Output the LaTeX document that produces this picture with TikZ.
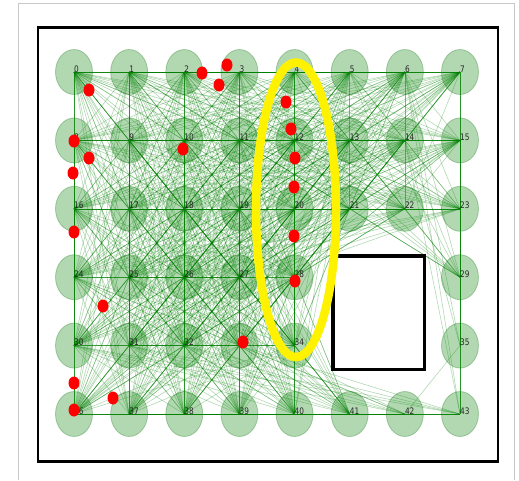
\documentclass[tikz,border=0pt]{standalone}
\usepackage{fontspec}
\newfontfamily\labelfont{DejaVu Sans}
\usetikzlibrary{shapes.geometric, backgrounds}

\definecolor{nodegreen}{RGB}{0,128,0}
\definecolor{framegray}{RGB}{200,200,200}

\begin{document}
\begin{tikzpicture}[
        x=1pt, y=-1pt,
        grid_node/.style={ellipse, minimum width=37pt, minimum height=45pt, inner sep=0pt, fill=nodegreen, fill opacity=0.3, draw=nodegreen!70!gray, draw opacity=0.35, line width=0.8pt},
        label_node/.style={anchor=base west, inner sep=0pt, xscale=0.82, font=\labelfont\fontsize{9}{9}\selectfont, text=black!85},
        sample_dot/.style={ellipse, minimum width=11pt, minimum height=13pt, inner sep=0pt, fill=red},
        edge_line/.style={draw=nodegreen, draw opacity=0.3, line width=0.6pt},
        focus_ring/.style={ellipse, draw=yellow, line width=8.5pt, minimum width=80pt, minimum height=294.6pt, inner sep=0pt},
        obstacle_box/.style={rectangle, draw=black, fill=white, line width=3.5pt, minimum width=91.5pt, minimum height=113.5pt, inner sep=0pt},
        frame_line/.style={draw=black, line width=2.8pt}
    ]
        \useasboundingbox (0,0) rectangle (519,480);

        % Nodes
        \foreach \i/\c/\r in {0/0/0,1/1/0,2/2/0,3/3/0,4/4/0,5/5/0,6/6/0,7/7/0,
                8/0/1,9/1/1,10/2/1,11/3/1,12/4/1,13/5/1,14/6/1,15/7/1,
                16/0/2,17/1/2,18/2/2,19/3/2,20/4/2,21/5/2,22/6/2,23/7/2,
                24/0/3,25/1/3,26/2/3,27/3/3,28/4/3,29/7/3,
                30/0/4,31/1/4,32/2/4,33/3/4,34/4/4,35/7/4,
                36/0/5,37/1/5,38/2/5,39/3/5,40/4/5,41/5/5,42/6/5,43/7/5}{
            \node (n\i) [grid_node] at ({74+55.14*\c},{72+68.4*\r}) {};
            \expandafter\xdef\csname gridcol\i\endcsname{\c}
            \expandafter\xdef\csname gridrow\i\endcsname{\r}
        }

        % Edges (pairs with a clear line of sight past the box)
        \begin{scope}[on background layer]
            \fill[white] (0,0) rectangle (519,480);
            \foreach \i in {0,...,42}{
                \pgfmathtruncatemacro\nexti{\i+1}
                \foreach \j in {\nexti,...,43}{
                    \edef\ci{\csname gridcol\i\endcsname}\edef\ri{\csname gridrow\i\endcsname}
                    \edef\cj{\csname gridcol\j\endcsname}\edef\rj{\csname gridrow\j\endcsname}
                    \pgfmathsetmacro\fa{(\cj-\ci)*(2.69-\ri)-(\rj-\ri)*(4.70-\ci)}
                    \pgfmathsetmacro\fb{(\cj-\ci)*(2.69-\ri)-(\rj-\ri)*(6.36-\ci)}
                    \pgfmathsetmacro\fc{(\cj-\ci)*(4.35-\ri)-(\rj-\ri)*(4.70-\ci)}
                    \pgfmathsetmacro\fd{(\cj-\ci)*(4.35-\ri)-(\rj-\ri)*(6.36-\ci)}
                    \pgfmathtruncatemacro\clear{(max(\ci,\cj)<4.70) || (min(\ci,\cj)>6.36) || (max(\ri,\rj)<2.69) || (min(\ri,\rj)>4.35) || ((\fa>0) && (\fb>0) && (\fc>0) && (\fd>0)) || ((\fa<0) && (\fb<0) && (\fc<0) && (\fd<0))}
                    \ifnum\clear=1
                        \draw [edge_line] (n\i.center) -- (n\j.center);
                    \fi
                }
            }
        \end{scope}

        % Labels
        \foreach \i in {0,...,43}{
            \node (lab\i) [label_node] at (n\i.center) {\i};
        }

        % Samples
        \foreach \x/\y [count=\k] in {89/90,202/73,219/85,227/65,74/141,89/158,73/173,183/149,286/102,291/129,
                295/158,294/187,294/236,295/281,243/342,74/232,103/306,74/383,74/410,113/398}{
            \node (dot\k) [sample_dot] at (\x,\y) {};
        }

        % Box and highlighted column
        \node (obstacle) [obstacle_box] at (378.75,312.75) {};
        \node (ring) [focus_ring] at (296,209.8) {};

        % Frames
        \draw [frame_line] (38,27.5) rectangle (498,461.3);
        \draw [framegray, line width=1pt] (18.7,480) -- (18.7,3.3) -- (514,3.3) -- (514,480);
    \end{tikzpicture}
\end{document}
